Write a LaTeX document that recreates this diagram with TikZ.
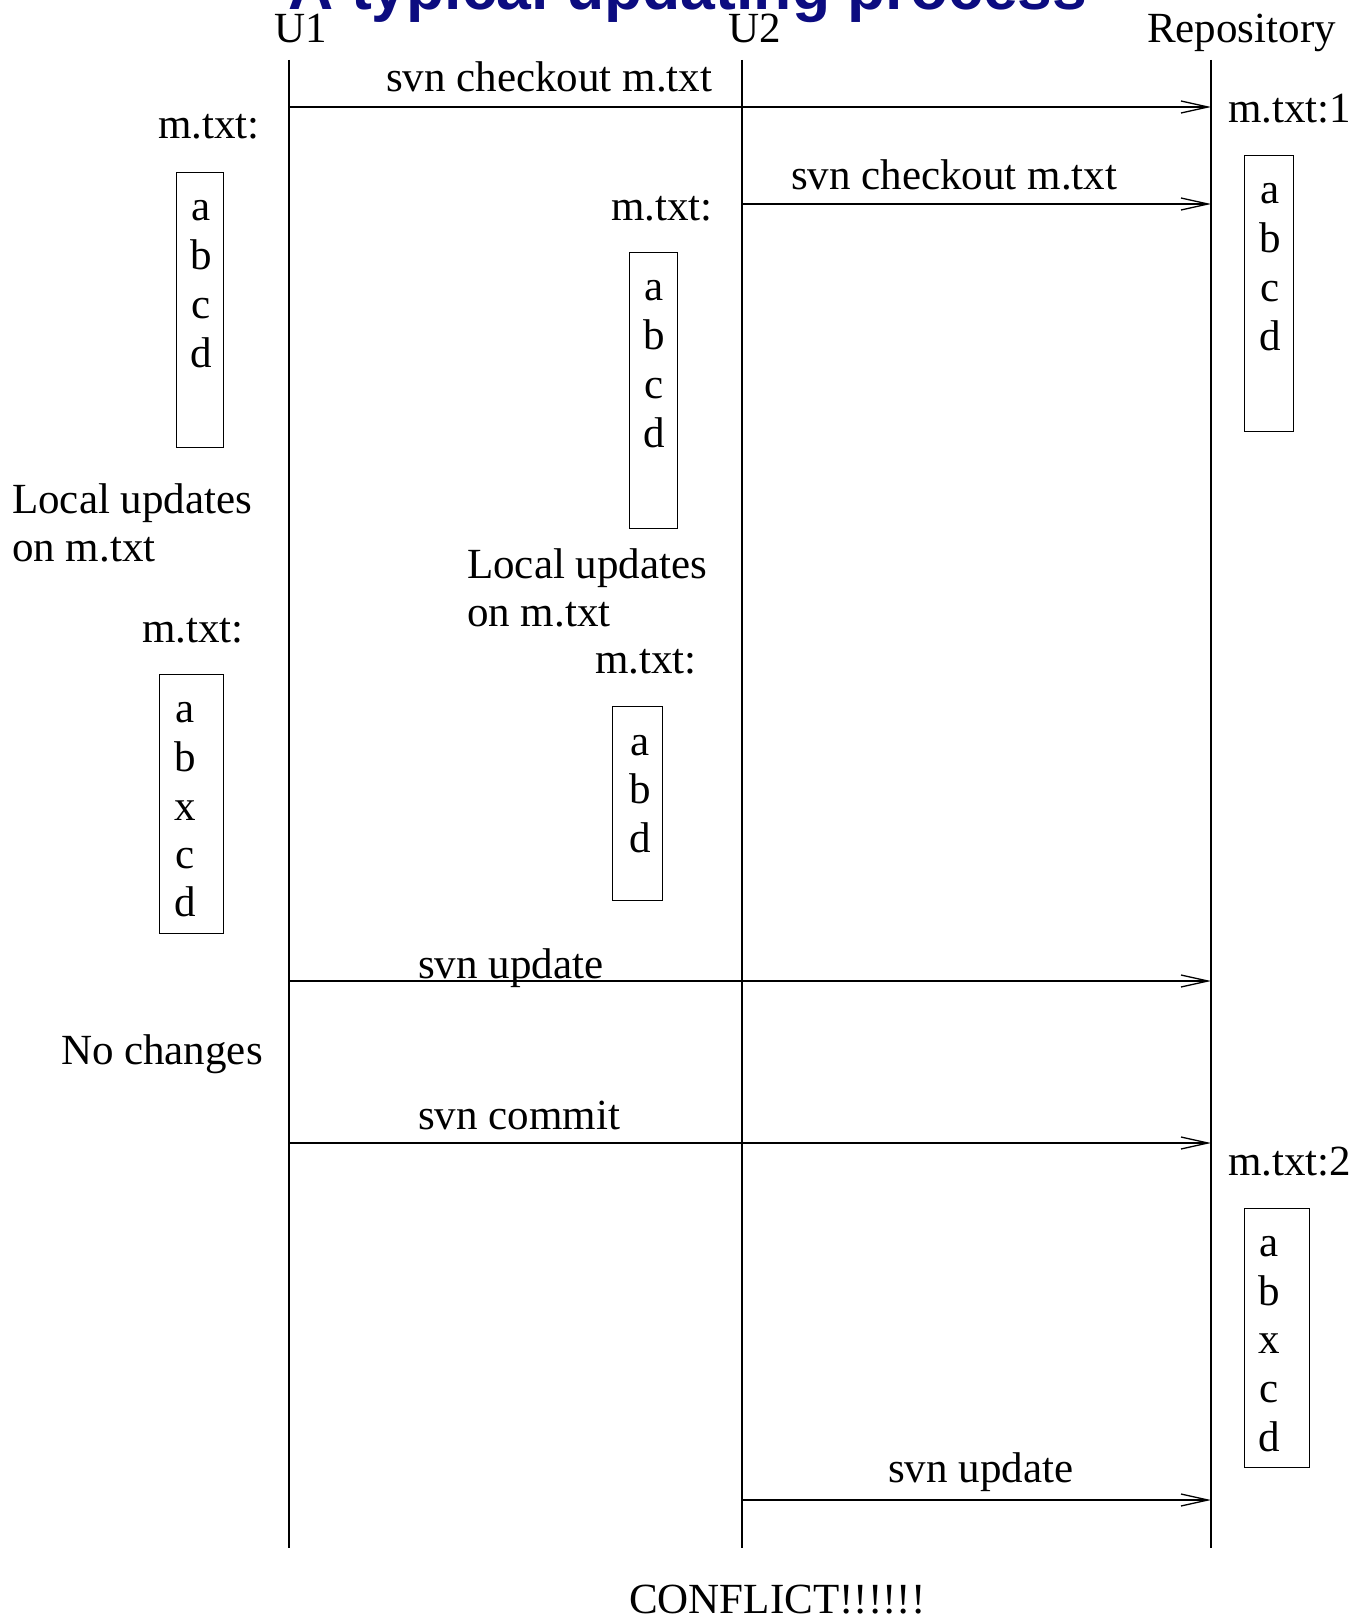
\documentclass[tikz,border=0pt]{standalone}
\usepackage{fontspec}
\setmainfont{Liberation Serif}
\newfontfamily\titlefont{Liberation Sans}
\usetikzlibrary{arrows.meta}
\definecolor{titleblue}{RGB}{12,12,128}
\begin{document}
\begin{tikzpicture}[x=1pt,y=-1pt,
  lbl/.style={inner sep=0pt, font=\fontsize{43}{48}\selectfont},
  life/.style={line width=1.3pt},
  msg/.style={line width=1.3pt, -{Straight Barb[length=27pt,width=12pt,line width=1.3pt]}},
  filebox/.style={draw, line width=1.3pt, inner sep=0pt, anchor=north west}
]
\useasboundingbox (0,0) rectangle (1364,1619);
\clip (0,0) rectangle (1364,1619);

% title (cut at top)
\node[inner sep=0pt, anchor=base, text=titleblue,
  font=\fontsize{62.5}{70}\selectfont\titlefont\bfseries] (title) at (688,10) {A typical updating process};

% lifeline heads
\node[lbl, anchor=base west] (U1) at (274,43) {U1};
\node[lbl, anchor=base west] (U2) at (728,43) {U2};
\node[lbl, anchor=base west] (Repo) at (1147,43) {Repository};

% lifelines
\coordinate (u1t) at (289,60);  \coordinate (u1b) at (289,1548);
\coordinate (u2t) at (742,60);  \coordinate (u2b) at (742,1548);
\coordinate (rpt) at (1211,60); \coordinate (rpb) at (1211,1548);
\draw[life] (u1t) -- (u1b);
\draw[life] (u2t) -- (u2b);
\draw[life] (rpt) -- (rpb);

% messages
\coordinate (m1s) at (289,107);  \coordinate (m1e) at (1211,107);
\coordinate (m2s) at (742,204);  \coordinate (m2e) at (1211,204);
\coordinate (m3s) at (289,981);  \coordinate (m3e) at (1211,981);
\coordinate (m4s) at (289,1143); \coordinate (m4e) at (1211,1143);
\coordinate (m5s) at (742,1500); \coordinate (m5e) at (1211,1500);
\draw[msg] (m1s) -- (m1e);
\draw[msg] (m2s) -- (m2e);
\draw[msg] (m3s) -- (m3e);
\draw[msg] (m4s) -- (m4e);
\draw[msg] (m5s) -- (m5e);
\node[lbl, anchor=base west] (l1) at (386,91) {svn checkout m.txt};
\node[lbl, anchor=base west] (l2) at (791,189) {svn checkout m.txt};
\node[lbl, anchor=base west] (l3) at (418,978) {svn update};
\node[lbl, anchor=base west] (l4) at (418,1129) {svn commit};
\node[lbl, anchor=base west] (l5) at (888,1482) {svn update};

% notes
\node[lbl, anchor=base east] (n1) at (260,138) {m.txt:};
\node[lbl, anchor=base east] (n2) at (713,220) {m.txt:};
\node[lbl, anchor=base west] (n3) at (1228,122) {m.txt:1};
\node[lbl, anchor=base west] (n4a) at (12,513) {Local updates};
\node[lbl, anchor=base west] (n4b) at (12,561) {on m.txt};
\node[lbl, anchor=base east] (n5) at (244,642) {m.txt:};
\node[lbl, anchor=base west] (n6a) at (467,578) {Local updates};
\node[lbl, anchor=base west] (n6b) at (467,626) {on m.txt};
\node[lbl, anchor=base east] (n7) at (697,673) {m.txt:};
\node[lbl, anchor=base east] (n8) at (263,1064) {No changes};
\node[lbl, anchor=base west] (n9) at (1228,1175) {m.txt:2};
\node[lbl, anchor=base west] (n10) at (629,1613) {CONFLICT!!!!!!};

% file boxes
\node[filebox, minimum width=47pt, minimum height=275pt] (box1) at (176,172) {};
\node[filebox, minimum width=48pt, minimum height=276pt] (box2) at (629,252) {};
\node[filebox, minimum width=49pt, minimum height=276pt] (box3) at (1244,155) {};
\node[filebox, minimum width=64pt, minimum height=259pt] (box4) at (159,674) {};
\node[filebox, minimum width=50pt, minimum height=194pt] (box5) at (612,706) {};
\node[filebox, minimum width=65pt, minimum height=259pt] (box6) at (1244,1208) {};

\foreach \t/\y [count=\i] in {a/220,b/269,c/318,d/367}
  \node[lbl, anchor=base] (f1-\i) at (201,\y) {\t};
\foreach \t/\y [count=\i] in {a/300,b/349,c/398,d/447}
  \node[lbl, anchor=base] (f2-\i) at (654,\y) {\t};
\foreach \t/\y [count=\i] in {a/203,b/252,c/301,d/350}
  \node[lbl, anchor=base] (f3-\i) at (1270,\y) {\t};
\foreach \t/\y [count=\i] in {a/722,b/771,x/820,c/868,d/916}
  \node[lbl, anchor=base] (f4-\i) at (185,\y) {\t};
\foreach \t/\y [count=\i] in {a/755,b/803,d/852}
  \node[lbl, anchor=base] (f5-\i) at (640,\y) {\t};
\foreach \t/\y [count=\i] in {a/1256,b/1305,x/1353,c/1402,d/1451}
  \node[lbl, anchor=base] (f6-\i) at (1269,\y) {\t};
\end{tikzpicture}
\end{document}
